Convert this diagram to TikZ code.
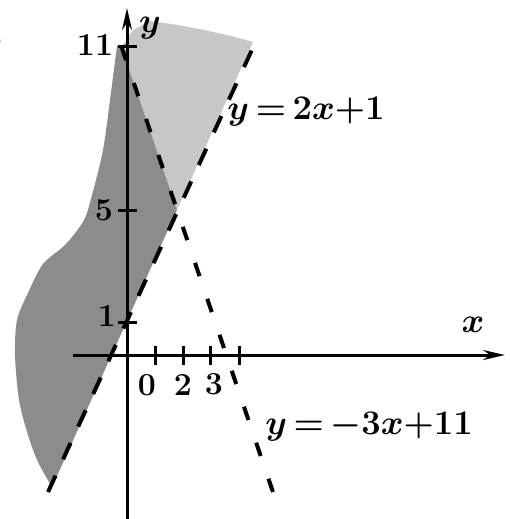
\documentclass[tikz,border=0pt]{standalone}
\usetikzlibrary{arrows.meta}
\begin{document}
\begin{tikzpicture}[x=0.5pt,y=-0.5pt,
  lbl/.style={font=\fontsize{16}{19}\selectfont\bfseries\boldmath, inner sep=0pt},
  axis/.style={line width=1.5pt, -{Stealth[length=11pt,width=5pt]}},
  tickmark/.style={line width=1.5pt},
  lineA/.style={line width=2pt, dash pattern=on 9pt off 9pt},
  lineB/.style={line width=2pt, dash pattern=on 7pt off 12pt},
  darkfill/.style={fill=black!45},
  lightfill/.style={fill=black!22}]
\useasboundingbox (0,0) rectangle (509,519);
% key points
\coordinate (I) at (177,210);
\coordinate (Atop) at (256,41);
\coordinate (Abot) at (48,492);
\coordinate (Btop) at (121.6,47);
\coordinate (Bbot) at (275,498);
% shaded regions
\fill[lightfill] (Btop) -- (133,30) -- (150,21) .. controls (190,26) and (225,34) .. (253,42) -- (I) -- cycle;
\fill[darkfill] (Btop) -- (I) -- (52,487) -- plot[smooth] coordinates {(52,487) (38,462) (28,435) (19,400) (15,355) (17,320) (28,293) (43,264) (66,244) (84,220) (92,195) (103,150) (110,100) (117,46)} -- (127,44) -- cycle;
% dashed lines
\draw[lineA] (Abot) -- (Atop);
\draw[lineB] (Btop) -- (Bbot);
% axes
\coordinate (yb) at (127,519); \coordinate (yt) at (127,8);
\coordinate (xl) at (73,355); \coordinate (xr) at (505,355);
\draw[axis] (yb) -- (yt);
\draw[axis] (xl) -- (xr);
% ticks
\foreach \t in {155,183,210,239} \draw[tickmark] (\t,346) -- (\t,365);
\foreach \t in {47,210,322} \draw[tickmark] (118,\t) -- (137,\t);
% labels
\node[lbl] (frag) at (-3,42) {)};
\node[lbl] (l11) at (95,45) {11};
\node[lbl] (l5) at (104,210) {5};
\node[lbl] (l1) at (107,316) {1};
\node[lbl] (l0) at (147,385) {0};
\node[lbl] (l2) at (183,385) {2};
\node[lbl] (l3) at (214,384) {3};
\node[lbl] (ly) at (150,28) {$y$};
\node[lbl] (lx) at (473,325) {$x$};
\node[lbl] (eqA) at (306,112) {$\thickmuskip=3mu y=2x{+}1$};
\node[lbl] (eqB) at (369,427) {$\thickmuskip=3mu y=-3x{+}11$};
\end{tikzpicture}
\end{document}
